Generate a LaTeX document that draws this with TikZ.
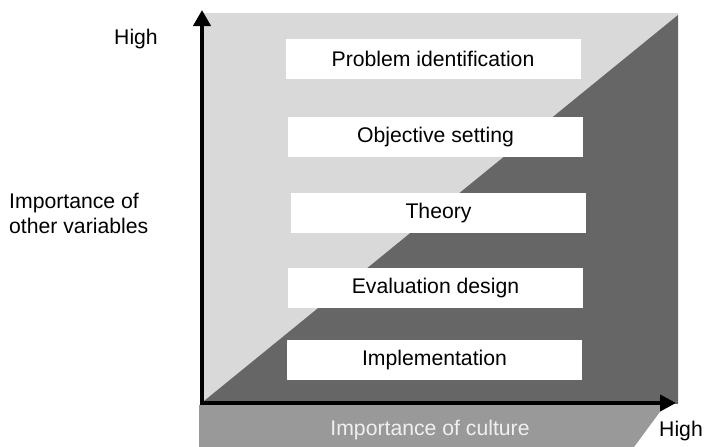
\documentclass[tikz,border=0pt]{standalone}
\usepackage{fontspec}
\setmainfont{Liberation Sans}
\usetikzlibrary{arrows.meta}
\definecolor{lightbg}{HTML}{D9D9D9}
\definecolor{darkbg}{HTML}{666666}
\definecolor{bandbg}{HTML}{999999}
\definecolor{bandtxt}{HTML}{F0F0F0}
\tikzset{
  stagebox/.style={fill=white, inner sep=0pt, minimum width=295pt, minimum height=40pt, font=\fontsize{21.2pt}{25pt}\selectfont},
  lbl/.style={inner sep=0pt, font=\fontsize{21.2pt}{25pt}\selectfont},
  axisline/.style={line width=4.6pt, {Triangle[length=16pt,width=17pt]}-{Triangle[length=16pt,width=16pt]}}
}
\begin{document}
\begin{tikzpicture}[x=1pt,y=-1pt]
\useasboundingbox (0,0) rectangle (705,447);
% background regions
\fill[lightbg] (202,13) rectangle (678,404);
\fill[darkbg] (204,401) -- (678,15) -- (678,404) -- cycle;
\fill[bandbg] (199,405) -- (665,405) -- (634,447) -- (199,447) -- cycle;
% stage boxes
\node[stagebox] (prob) at (433,59) {Problem identification};
\node[stagebox] (obj) at (435.5,137) {Objective setting};
\node[stagebox] (theo) at (438.5,213) {Theory};
\node[stagebox] (eval) at (435.5,288) {Evaluation design};
\node[stagebox] (impl) at (434.5,360) {Implementation};
% axes
\coordinate (Y) at (202,10);
\coordinate (O) at (202,403);
\coordinate (X) at (676,403);
\draw[axisline, line join=miter] (Y) -- (O) -- (X);
% labels
\node[lbl, anchor=base] (hy) at (136,45) {High};
\node[lbl, anchor=base west] (imp1) at (9,208) {Importance of};
\node[lbl, anchor=base west] (imp2) at (9,233) {other variables};
\node[lbl, anchor=base, text=bandtxt] (cult) at (430,435.5) {Importance of culture};
\node[lbl, anchor=base west] (hx) at (659,436) {High};
\end{tikzpicture}
\end{document}
